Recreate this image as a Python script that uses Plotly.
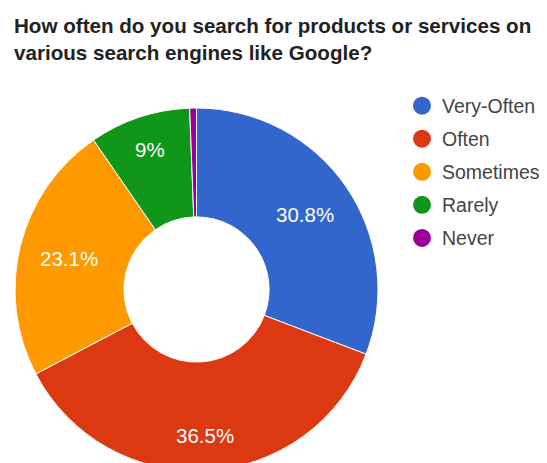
import math
import plotly.graph_objects as go

# Survey answers and their shares (percent)
categories = ["Very-Often", "Often", "Sometimes", "Rarely", "Never"]
shares = [30.8, 36.5, 23.1, 9.0, 0.6]
colors = ["#3366cc", "#dc3912", "#ff9900", "#109618", "#990099"]
# which slices carry a percentage label (the thinnest one is left bare)
show_label = [True, True, True, True, False]
# distance of each label from the centre, as a fraction of the outer radius
label_radius = [0.727, 0.804, 0.722, 0.810, 0.75]

title_text = ("How often do you search for products or services on<br>"
              "various search engines like Google?")

FONT = "Arial, 'Liberation Sans', sans-serif"
W, H = 547, 471
TOP = 108          # top margin: the pie starts here
PLOT_H = H - TOP   # plot area height in px
DOM_X = [15 / W, 378 / W]


def paper_y(px):
    """Convert a pixel row (from the top of the figure) to paper y."""
    return 1 + (TOP - px) / PLOT_H


fig = go.Figure()
fig.add_trace(go.Pie(
    labels=categories,
    values=shares,
    sort=False,
    direction="clockwise",
    rotation=0,
    hole=0.40,
    marker=dict(colors=colors, line=dict(color="white", width=1)),
    textinfo="none",
    hoverinfo="label+percent",
    showlegend=False,
    domain=dict(x=DOM_X, y=[0, 1]),
))

# percentage labels placed along each slice's bisector
cx_px = (DOM_X[0] + DOM_X[1]) / 2 * W
cy_px = TOP + PLOT_H / 2
radius_px = min((DOM_X[1] - DOM_X[0]) * W, PLOT_H) / 2
total = sum(shares)
cum = 0.0
for val, show, rf in zip(shares, show_label, label_radius):
    mid = (cum + val / 2) / total * 2 * math.pi
    cum += val
    if not show:
        continue
    px = cx_px + rf * radius_px * math.sin(mid)
    py = cy_px - rf * radius_px * math.cos(mid)
    fig.add_annotation(
        text=f"{val:g}%",
        xref="paper", yref="paper",
        x=px / W, y=paper_y(py),
        xanchor="center", yanchor="middle",
        showarrow=False,
        font=dict(family=FONT, size=20.5, color="white"),
    )

# legend entries with round swatches
for name, col in zip(categories, colors):
    fig.add_trace(go.Scatter(
        x=[None], y=[None], mode="markers", name=name,
        legendgroup=name,
        marker=dict(symbol="circle", size=16, color=col,
                    line=dict(color=col, width=2)),
    ))

fig.add_annotation(
    text=title_text,
    xref="paper", yref="paper",
    x=12 / W, xanchor="left",
    y=paper_y(11.5), yanchor="top",
    align="left",
    showarrow=False,
    font=dict(family=FONT, size=20.6, color="#222222", weight="bold"),
)

fig.update_layout(
    width=W,
    height=H,
    margin=dict(l=0, r=0, t=TOP, b=0),
    paper_bgcolor="white",
    plot_bgcolor="white",
    xaxis=dict(visible=False),
    yaxis=dict(visible=False),
    legend=dict(
        x=402 / W, xanchor="left",
        y=paper_y(86.5), yanchor="top",
        font=dict(family=FONT, size=19.5, color="#444444"),
        tracegroupgap=4.7,
        bgcolor="rgba(0,0,0,0)",
    ),
)

fig.write_html(
    "out.html",
    post_script="document.documentElement.style.overflow='hidden';"
                "document.body.style.overflow='hidden';"
                "document.body.style.margin='0';",
)
